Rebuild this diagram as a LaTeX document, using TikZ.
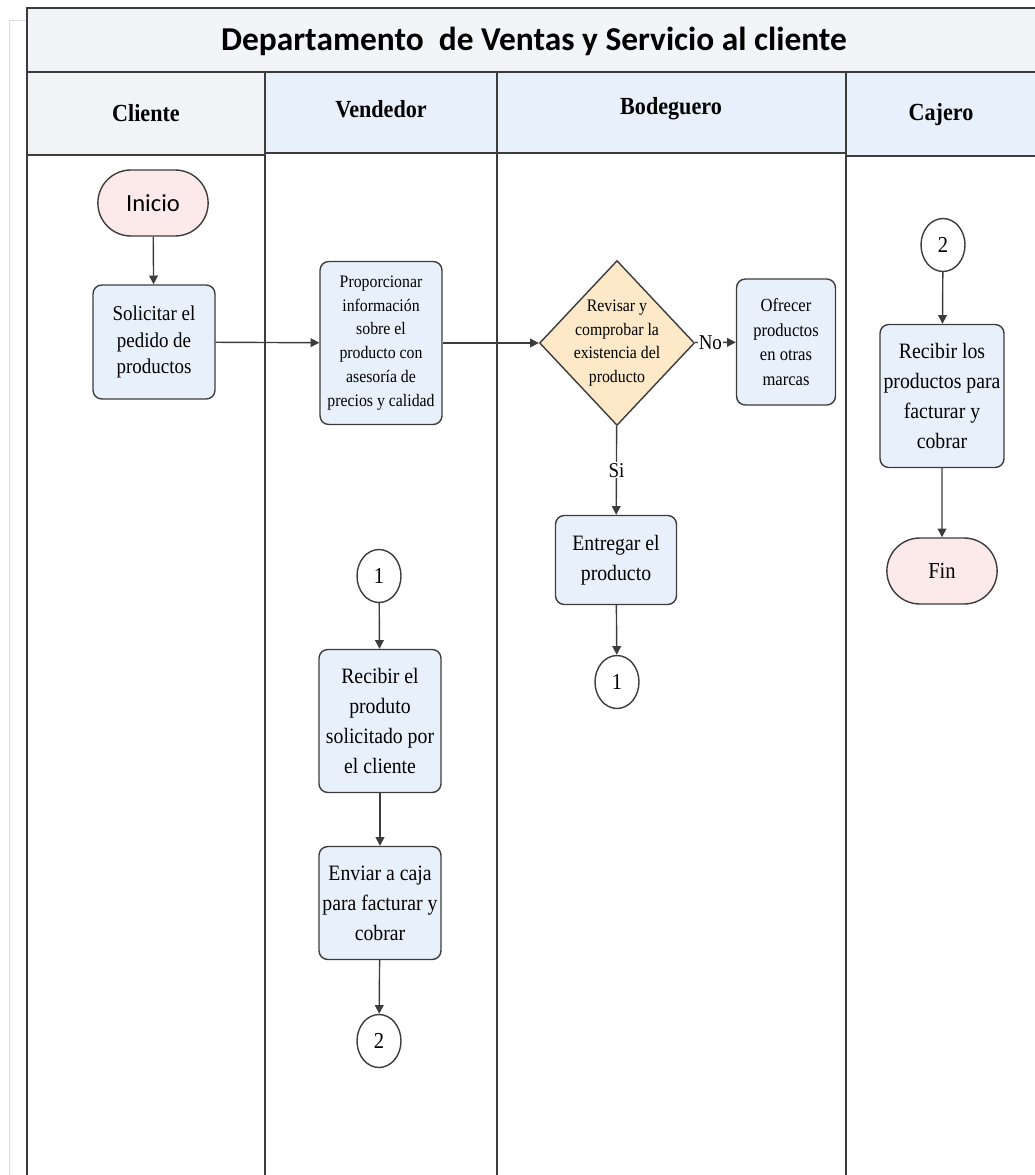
\documentclass[tikz,border=0pt]{standalone}
\usepackage{fontspec}
\setmainfont{Liberation Serif}
\newfontfamily\titlefont{Carlito}
\newfontfamily\boxfont{Liberation Serif}[FakeStretch=0.9]
\usetikzlibrary{arrows.meta,shapes.geometric,shapes.misc,positioning}
\definecolor{linec}{RGB}{60,60,60}
\definecolor{boxblue}{RGB}{232,241,251}
\definecolor{termpink}{RGB}{252,234,234}
\definecolor{decorange}{RGB}{253,232,200}
\definecolor{titlegray}{RGB}{242,244,247}
\definecolor{headgray}{RGB}{242,243,245}
\definecolor{headblue}{RGB}{232,241,251}
\definecolor{pagegray}{RGB}{222,222,222}
\tikzset{
  lane/.style={
    draw = linec,
    line width = 0.9pt
  },
  lanehead/.style={
    font = \boxfont\bfseries\fontsize{14}{16}\selectfont
  },
  proc/.style={
    shape = rectangle,
    draw = linec,
    fill = boxblue,
    rounded corners = 5pt,
    line width = 0.8pt,
    align = center,
    inner sep = 1pt,
    font = \boxfont\fontsize{12.5}{17}\selectfont
  },
  term/.style={
    shape = rounded rectangle,
    draw = linec,
    fill = termpink,
    line width = 0.8pt,
    minimum width = 2.44cm,
    minimum height = 1.32cm
  },
  decision/.style={
    shape = diamond,
    draw = linec,
    fill = decorange,
    line width = 0.8pt,
    align = center,
    inner sep = -3.5pt,
    minimum width = 3.1cm,
    minimum height = 3.3cm,
    font = \boxfont\fontsize{10}{13.5}\selectfont
  },
  conn/.style={
    shape = ellipse,
    draw = linec,
    line width = 0.8pt,
    fill = white,
    minimum width = 0.88cm,
    minimum height = 1.06cm,
    inner sep = 0pt,
    font = \boxfont\fontsize{13}{15}\selectfont
  },
  flow/.style={
    draw = linec,
    line width = 0.8pt,
    -{Triangle[length=5pt,width=5pt]}
  },
  answer/.style={
    fill = white,
    inner sep = 0.5pt,
    font = \boxfont\fontsize{12}{14}\selectfont
  }
}
\begin{document}
\begin{tikzpicture}[x=0.02cm,y=-0.02cm]
  \useasboundingbox (0,0) rectangle (1034,1175);
  % marco y carriles
  \draw[pagegray] (9,1175) |- (27,20);
  \draw[lane, fill=titlegray] (27,8) rectangle (1040,72);
  \node[font=\titlefont\bfseries\fontsize{19}{23}\selectfont] (title) at (534,41)
    {Departamento\ \ de Ventas y Servicio al cliente};
  \draw[lane, fill=headgray] (27,72) rectangle (265,155);
  \draw[lane, fill=headblue] (265,72) rectangle (497,153);
  \draw[lane, fill=headblue] (497,72) rectangle (846,153);
  \draw[lane, fill=headblue] (846,72) rectangle (1040,156);
  \node[lanehead] (hcliente) at (146,113) {Cliente};
  \node[lanehead] (hvendedor) at (381,109) {Vendedor};
  \node[lanehead] (hbodeguero) at (671,109) {Bodeguero};
  \node[lanehead] (hcajero) at (941,115) {Cajero};
  \foreach \x in {27,265,497,846}{
    \draw[lane] (\x,153) -- (\x,1180);
  }

  % Cliente
  \node[term, font=\titlefont\fontsize{14}{16}\selectfont] (inicio) at (153,203) {Inicio};
  \node[proc, minimum width=2.44cm, minimum height=2.28cm, font=\boxfont\fontsize{12}{15}\selectfont]
    (solicitar) at (154,342) {Solicitar el\\pedido de\\productos};

  % Vendedor
  \node[proc, minimum width=2.44cm, minimum height=3.26cm, font=\boxfont\fontsize{10}{13.6}\selectfont]
    (proporcionar) at (381,343) {Proporcionar\\información\\sobre el\\producto con\\asesoría de\\precios y calidad};
  \node[conn] (unoa) at (379,576) {1};
  \node[proc, minimum width=2.44cm, minimum height=2.86cm] (recibir) at (380,721)
    {Recibir el\\produto\\solicitado por\\el cliente};
  \node[proc, minimum width=2.44cm, minimum height=2.26cm] (enviar) at (380,903)
    {Enviar a caja\\para facturar y\\cobrar};
  \node[conn] (dosa) at (379,1041) {2};

  % Bodeguero
  \node[decision] (revisar) at (617,343)
    {Revisar y\\comprobar la\\existencia del\\producto};
  \node[proc, minimum width=1.98cm, minimum height=2.52cm, font=\boxfont\fontsize{10.5}{13.9}\selectfont]
    (ofrecer) at (786,342) {Ofrecer\\productos\\en otras\\marcas};
  \node[proc, minimum width=2.42cm, minimum height=1.78cm] (entregar) at (616,560)
    {Entregar el\\producto};
  \node[conn] (unob) at (617,682) {1};

  % Cajero
  \node[conn] (dosb) at (943,245) {2};
  \node[proc, minimum width=2.48cm, minimum height=2.86cm] (cobrar) at (942,396)
    {Recibir los\\productos para\\facturar y\\cobrar};
  \node[term, font=\boxfont\fontsize{13}{15}\selectfont] (fin) at (942,571) {Fin};

  % conectores
  \draw[flow] (inicio) -- (solicitar);
  \draw[flow] (solicitar) -- (proporcionar);
  \draw[flow] (proporcionar) -- (revisar);
  \draw[flow] (revisar) -- node[answer, pos=0.38] {No} (ofrecer);
  \draw[flow] (revisar) -- node[answer] {Si} (entregar);
  \draw[flow] (entregar) -- (unob);
  \draw[flow] (unoa) -- (recibir);
  \draw[flow] (recibir) -- (enviar);
  \draw[flow] (enviar) -- (dosa);
  \draw[flow] (dosb) -- (cobrar);
  \draw[flow] (cobrar) -- (fin);
\end{tikzpicture}
\end{document}
